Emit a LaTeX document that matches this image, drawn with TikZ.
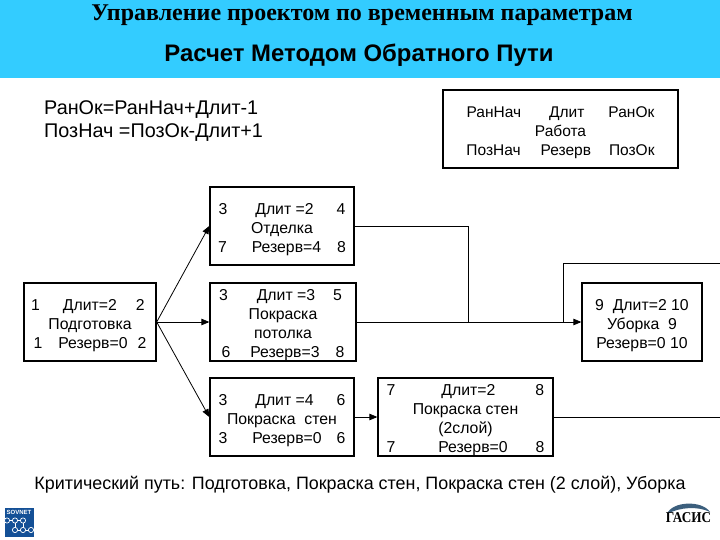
\documentclass[tikz,border=0pt]{standalone}
\usepackage{fontspec}
\setmainfont{Liberation Sans}
\newfontfamily\titlefont{Liberation Serif}
\usetikzlibrary{arrows,positioning}

\definecolor{headerblue}{RGB}{51,204,255}
\definecolor{sovnetblue}{RGB}{20,80,150}
\definecolor{gasisblue}{RGB}{60,95,125}
\newcommand{\lift}{\rule{0pt}{17.5pt}}
\tikzset{
  work/.style={draw=black,line width=1.4pt,align=center,inner sep=0pt,
    font=\fontsize{15.8}{19}\selectfont},
  free text/.style={inner sep=0pt,align=left},
  link/.style={line width=0.8pt,-triangle 45},
  plain link/.style={line width=0.8pt},
  chain/.style={white,line width=0.7pt}
}

\begin{document}
\begin{tikzpicture}[x=1pt,y=-1pt,>=stealth']
  \useasboundingbox (0,0) rectangle (720,540);
  \fill[headerblue] (0,0) rectangle (720,78);
  \node[inner sep=0pt] (title) at (362,15) {\titlefont\bfseries\fontsize{24}{26}\selectfont Управление проектом по временным параметрам};
  \node[inner sep=0pt] (subtitle) at (359,55) {\bfseries\fontsize{23.9}{26}\selectfont Расчет Методом Обратного Пути};
  \node[free text,anchor=north west,font=\fontsize{19.8}{23}\selectfont] (formula) at (44,100)
    {РанОк=РанНач+Длит-1\\ПозНач =ПозОк-Длит+1};
  \node[work,font=\fontsize{15.5}{19}\selectfont,minimum width=235pt,minimum height=78pt] (legend) at (560.5,129)
    {\lift РанНач\hspace{28pt}Длит\hspace{24pt}РанОк\\Работа\\ПозНач\hspace{20pt}Резерв\hspace{18pt}ПозОк};
  % works
  \node[work,minimum width=132pt,minimum height=78pt] (prep) at (90,322)
    {\lift 1\hspace{23pt}Длит=2\hspace{19pt}2\kern4pt\\Подготовка\\1\hspace{16pt}Резерв=0\hspace{10pt}2};
  \node[work,minimum width=144pt,minimum height=78pt] (finish) at (282,226)
    {\lift 3\hspace{28pt}Длит =2\hspace{23pt}4\\Отделка\\7\hspace{25pt}Резерв=4\hspace{16pt}8};
  \node[work,minimum width=146pt,minimum height=78pt] (ceiling) at (283,322)
    {\lift 3\hspace{29pt}Длит =3\hspace{18pt}5\kern5pt\\Покраска\\потолка\\6\hspace{20pt}Резерв=3\hspace{16pt}8};
  \node[work,minimum width=144pt,minimum height=78pt] (walls) at (282,417)
    {\lift 3\hspace{28pt}Длит =4\hspace{23pt}6\\Покраска~~стен\\3\hspace{25pt}Резерв=0\hspace{15pt}6};
  \node[work,minimum width=175pt,minimum height=78pt] (walls2) at (465.5,417)
    {\lift 7\hspace{46pt}Длит=2\hspace{40pt}8\\Покраска стен\\(2слой)\\7\hspace{43pt}Резерв=0\hspace{28pt}8};
  \node[work,minimum width=120pt,minimum height=78pt] (clean) at (642,322)
    {\lift 9~~Длит=2 10\\Уборка~~9\\Резерв=0 10};
  % free ends of the lines
  \coordinate (turn) at (468.5,321.5);
  \coordinate (join) at (563.5,321.5);
  \coordinate (out) at (720,417);
  \coordinate (back) at (720,263);
  % links
  \draw[link] (prep.east) -- (finish.west);
  \draw[link] (prep.east) -- (ceiling.west);
  \draw[link] (prep.east) -- (walls.west);
  \draw[link] (walls.east) -- (walls2.west);
  \draw[link] (ceiling.east) -- (clean.west);
  \draw[plain link] (finish.east) -| (turn);
  \draw[plain link] (walls2.east) -- (out);
  \draw[plain link] (back) -| (join);
  \node[inner sep=0pt,font=\fontsize{17.9}{20}\selectfont] (critical) at (360,485)
    {Критический путь: Подготовка, Покраска стен, Покраска стен (2 слой), Уборка};
  % logos
  \node[fill=sovnetblue,minimum width=29pt,minimum height=29pt,inner sep=0pt] (sovnet) at (19,522.5) {};
  \node[inner sep=0pt,text=white,font=\bfseries\fontsize{6}{7}\selectfont] (sovnetname) at (19,512.5) {SOVNET};
  \draw[chain] (7,520.5) -- (23,520.5) (15,520.5) -- (15,530) (23,520.5) -- (23,530) (15,530) -- (31,530);
  \foreach \px in {7,15,23} {
    \draw[chain,fill=sovnetblue] (\px,520.5) circle (2.6);
    \draw[chain,fill=sovnetblue] (\px+8,530) circle (2.6);
  }
  \fill[gasisblue] (667,514) .. controls (672,501) and (702,500) .. (710,512)
    .. controls (698,506) and (680,507) .. (667,514);
  \node[inner sep=0pt,xscale=.88,transform shape,font=\titlefont\bfseries\fontsize{15}{16}\selectfont,text=black] (gasis) at (688.5,518) {ГАСИС};
\end{tikzpicture}
\end{document}
